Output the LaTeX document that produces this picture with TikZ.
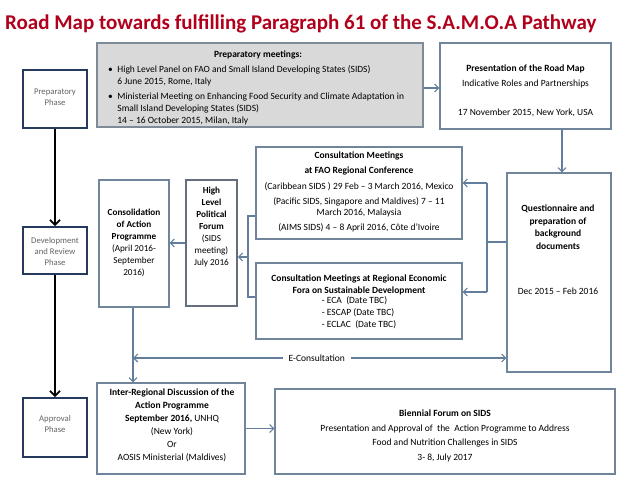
\documentclass[tikz,border=0pt]{standalone}
\usepackage{fontspec}
\setmainfont{Carlito}
\usetikzlibrary{arrows.meta,calc}
\definecolor{boxc}{RGB}{112,132,156}
\definecolor{linec}{RGB}{98,126,156}
\definecolor{prepfill}{RGB}{217,217,217}
\definecolor{prepc}{RGB}{125,138,152}
\definecolor{hlpfc}{RGB}{100,110,125}
\definecolor{navy}{RGB}{38,58,96}
\definecolor{ptgray}{RGB}{100,100,100}
\definecolor{titlered}{RGB}{178,0,28}
\begin{document}
\begin{tikzpicture}[x=1pt,y=-1pt,
  box/.style={draw=boxc, line width=1.1pt, inner sep=0pt, fill=white},
  conn/.style={draw=linec, line width=1.1pt},
  arr/.style={-{Straight Barb[length=4pt,width=8pt]}},
  both/.style={{Straight Barb[length=4pt,width=8pt]}-{Straight Barb[length=4pt,width=8pt]}},
  phase/.style={draw=navy, line width=1.7pt, inner sep=0pt, fill=white},
  ptxt/.style={font=\fontsize{8.7}{11}\selectfont, text=ptgray, align=center, inner sep=0pt},
  txt/.style={font=\fontsize{9.5}{12}\selectfont, align=center, inner sep=0pt},
  stxt/.style={font=\fontsize{9.2}{12}\selectfont, align=center, inner sep=0pt},
  parr/.style={draw=black, line width=1.8pt, -{Straight Barb[length=5pt,width=10pt]}}
]
\useasboundingbox (0,0) rectangle (638,479);
\fill[white] (0,0) rectangle (638,479);

% title
\node[anchor=base west, inner sep=0pt, text=titlered, font=\fontsize{21}{25}\selectfont\bfseries] (title) at (5,29)
  {Road Map towards fulfilling Paragraph 61 of the S.A.M.O.A Pathway};

% phase boxes
\node[phase, minimum width=64pt, minimum height=58pt] (ph1) at (55,99) {};
\node[phase, minimum width=64pt, minimum height=47pt] (ph2) at (55,250.5) {};
\node[phase, minimum width=64pt, minimum height=59pt] (ph3) at (55,427.5) {};
\node[ptxt] (ph1t) at (55,97) {Preparatory\\Phase};
\node[ptxt] (ph2t) at (55,252) {Development\\and Review\\Phase};
\node[ptxt] (ph3t) at (55,424) {Approval\\Phase};
\draw[parr] (ph1.south) -- (ph2.north);
\draw[parr] (ph2.south) -- (ph2.south |- ph3.north);

% boxes
\node[box, fill=prepfill, draw=prepc, minimum width=326pt, minimum height=84pt] (prep) at (260,85) {};
\node[box, minimum width=171pt, minimum height=86pt] (pres) at (525.5,86) {};
\node[box, minimum width=104pt, minimum height=199pt] (quest) at (559,272.5) {};
\node[box, minimum width=206pt, minimum height=92pt] (fao) at (359,193) {};
\node[box, minimum width=206pt, minimum height=76pt] (reg) at (359,301) {};
\node[box, draw=hlpfc, line width=1.6pt, minimum width=51pt, minimum height=126pt] (hlpf) at (211.5,243) {};
\node[box, minimum width=70pt, minimum height=127pt] (cons) at (134,243.5) {};
\node[box, minimum width=148pt, minimum height=91pt] (inter) at (171,428.5) {};
\node[box, minimum width=340pt, minimum height=85pt] (bien) at (445,431.5) {};

% texts
\node[txt, font=\fontsize{9.5}{12}\selectfont\bfseries] (prept) at (258,55) {Preparatory meetings:};
\node[anchor=north west, inner sep=0pt, font=\fontsize{9.5}{12}\selectfont] (prepl) at (108,63.5)
  {\renewcommand\arraystretch{1}\begin{tabular}{@{}l@{\hspace{4.5pt}}l@{}}
   • & High Level Panel on FAO and Small Island Developing States (SIDS)\\
     & 6 June 2015, Rome, Italy\\[3pt]
   • & Ministerial Meeting on Enhancing Food Security and Climate Adaptation in\\
     & Small Island Developing States (SIDS)\\
     & 14 – 16 October 2015, Milan, Italy
  \end{tabular}};
\node[txt] (prest) at (525.5,91) {\textbf{Presentation of the Road Map}\\[3pt]
  Indicative Roles and Partnerships\\[17pt]
  17 November 2015, New York, USA};
\node[txt, font=\fontsize{9.5}{12.5}\selectfont] (questt) at (558,249.5) {\textbf{Questionnaire and}\\
  \textbf{preparation of}\\\textbf{background}\\\textbf{documents}\\[32.5pt]
  Dec 2015 – Feb 2016};
\node[txt, font=\fontsize{9.5}{11}\selectfont] (faot) at (359,192) {\textbf{Consultation Meetings}\\[4pt]
  \textbf{at FAO Regional Conference}\\[5pt]
  (Caribbean SIDS ) 29 Feb – 3 March 2016, Mexico\\[4pt]
  (Pacific SIDS, Singapore and Maldives) 7 – 11\\
  March 2016, Malaysia\\[4pt]
  (AIMS SIDS) 4 – 8 April 2016, Côte d'Ivoire};
\node[txt] (regt) at (359,303) {\textbf{Consultation Meetings at Regional Economic}\\
  \textbf{Fora on Sustainable Development}\\
  {\renewcommand\arraystretch{1}\begin{tabular}{@{}l@{}}
  - ECA\ \ (Date TBC)\\ - ESCAP (Date TBC)\\ - ECLAC\ \ (Date TBC)\end{tabular}}};
\node[stxt] (hlpft) at (211.5,227) {\textbf{High}\\\textbf{Level}\\\textbf{Political}\\\textbf{Forum}\\
  (SIDS\\meeting)\\July 2016};
\node[stxt] (const) at (134,243) {\textbf{Consolidation}\\\textbf{of Action}\\\textbf{Programme}\\
  (April 2016-\\September\\2016)};
\node[txt, font=\fontsize{9.5}{13}\selectfont] (intert) at (172,425) {\textbf{Inter-Regional Discussion of the}\\
  \textbf{Action Programme}\\
  \textbf{September 2016,} UNHQ\\
  (New York)\\Or\\AOSIS Ministerial (Maldives)};
\node[txt, font=\fontsize{9.5}{14.5}\selectfont] (bient) at (445,436) {\textbf{Biennial Forum on SIDS}\\
  Presentation and Approval of\ \ the\ \ Action Programme to Address\\
  Food and Nutrition Challenges in SIDS\\
  3- 8, July 2017};

% connectors
\draw[conn,arr] ($(prep.east)+(0,3)$) -- ($(pres.west)+(0,2)$);
\coordinate (xq) at (562,0);
\draw[conn,arr] (pres.south -| xq) -- (quest.north -| xq);

\coordinate (rb) at (487,242);
\coordinate (rbt) at (487,183);
\coordinate (rbb) at (487,292);
\draw[conn] (quest.west |- rb) -- (rb);
\draw[conn] (rbt) -- (rbb);
\draw[conn,arr] (rbt) -- (fao.east |- rbt);
\draw[conn,arr] (rbb) -- (reg.east |- rbb);

\coordinate (lbt) at (248,216);
\coordinate (lbb) at (248,297);
\coordinate (lbm) at (248,257);
\draw[conn] (fao.west |- lbt) -- (lbt) -- (lbb) -- (reg.west |- lbb);
\draw[conn,arr] (lbm) -- (hlpf.east |- lbm);

\draw[conn,arr] (hlpf.west) -- (cons.east |- hlpf.west);
\draw[conn,arr] (cons.south -| 133,0) -- (inter.north -| 133,0);

\coordinate (ec) at (133,358);
\draw[conn,both] (ec) -- node[txt, fill=white, inner xsep=6pt, inner ysep=1pt, pos=0.492] (econ) {E-Consultation} (quest.west |- ec);

\draw[conn,arr] (inter.east) -- (bien.west |- inter.east);
\end{tikzpicture}
\end{document}
